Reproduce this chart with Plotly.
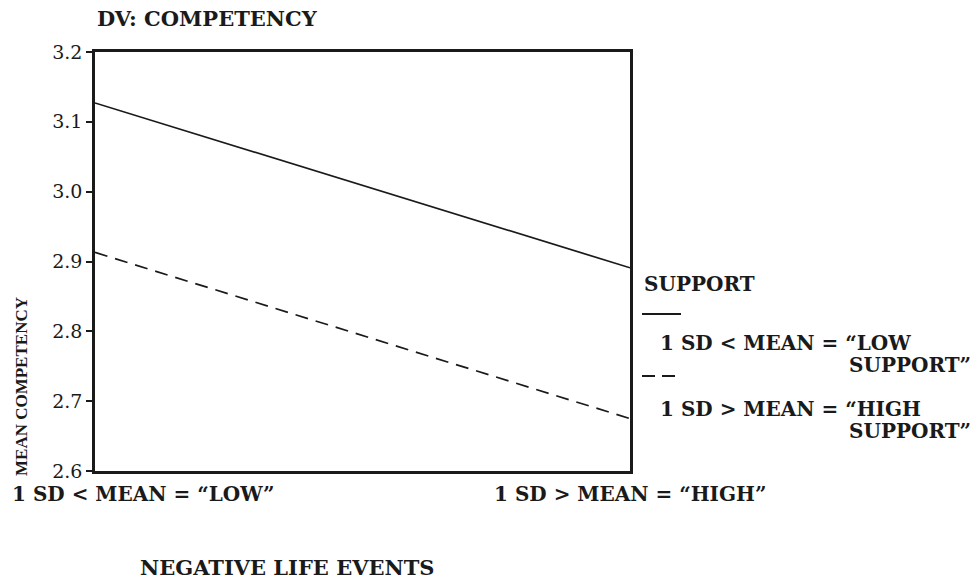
import plotly.graph_objects as go

# Data
x_positions = [0, 1]
x_labels = ["1 SD &lt; MEAN = “LOW”", "1 SD &gt; MEAN = “HIGH”"]
low_support = [3.127, 2.891]
high_support = [2.913, 2.675]
y_ticks = [2.6, 2.7, 2.8, 2.9, 3.0, 3.1, 3.2]
y_tick_text = ["2.6", "2.7", "2.8", "2.9", "3.0", "3.1", "3.2"]

W, H = 977, 582
L, R, T, B = 95, 630, 52, 471
FONT = "DejaVu Serif, serif"
FONT_NARROW = "Liberation Serif, Times New Roman, serif"
INK = "#1a1a1a"


def px(x):
    return (x - L) / (R - L)


def py(y):
    return (B - y) / (B - T)


fig = go.Figure()
fig.add_trace(go.Scatter(x=x_positions, y=low_support, mode="lines",
                         line=dict(color=INK, width=1.7, dash="solid"),
                         name="low", showlegend=False))
fig.add_trace(go.Scatter(x=x_positions, y=high_support, mode="lines",
                         line=dict(color=INK, width=1.7, dash="13px,8px"),
                         name="high", showlegend=False))

fig.update_layout(
    width=W, height=H,
    margin=dict(l=L, r=W - R, t=T, b=H - B),
    paper_bgcolor="white", plot_bgcolor="white",
    font=dict(family=FONT, color=INK),
    showlegend=False,
)
fig.update_xaxes(range=[0, 1], showgrid=False, zeroline=False,
                 showline=True, linecolor=INK, linewidth=2.5, mirror=True,
                 showticklabels=False, ticks="")
fig.update_yaxes(range=[2.6, 3.2], showgrid=False, zeroline=False,
                 showline=True, linecolor=INK, linewidth=2.5, mirror=True,
                 tickmode="array", tickvals=y_ticks, ticktext=y_tick_text,
                 ticks="outside", ticklen=6, tickwidth=2, tickcolor=INK,
                 tickfont=dict(family=FONT, size=19, color=INK))

ann = []
bold = dict(family=FONT, size=20, color=INK)
# Title
ann.append(dict(text="<b>DV: COMPETENCY</b>", xref="paper", yref="paper",
                x=px(95), y=py(18), xanchor="left", yanchor="middle",
                showarrow=False, font=dict(family=FONT, size=21, color=INK)))
# Category labels
ann.append(dict(text="<b>" + x_labels[0] + "</b>", xref="paper", yref="paper",
                x=px(10), y=py(494), xanchor="left", yanchor="middle",
                showarrow=False, font=bold))
ann.append(dict(text="<b>" + x_labels[1] + "</b>", xref="x", yref="paper",
                x=x_positions[1], y=py(494), xanchor="center", yanchor="middle",
                showarrow=False, font=bold))
# Axis titles
ann.append(dict(text="<b>NEGATIVE LIFE EVENTS</b>", xref="paper", yref="paper",
                x=px(287), y=py(567), xanchor="center", yanchor="middle",
                showarrow=False, font=dict(family=FONT, size=21, color=INK)))
ann.append(dict(text="<b>MEAN COMPETENCY</b>", xref="paper", yref="paper",
                x=px(21), y=py(387), xanchor="center", yanchor="middle", textangle=-90,
                showarrow=False, font=dict(family=FONT_NARROW, size=17, color=INK)))
# Legend text
ann.append(dict(text="<b>SUPPORT</b>", xref="paper", yref="paper",
                x=px(642), y=py(284), xanchor="left", yanchor="middle",
                showarrow=False, font=bold))
ann.append(dict(text="<b>1 SD &lt; MEAN = “LOW</b>", xref="paper", yref="paper",
                x=px(658), y=py(343), xanchor="left", yanchor="middle",
                showarrow=False, font=bold))
ann.append(dict(text="<b>SUPPORT”</b>", xref="paper", yref="paper",
                x=px(973), y=py(365), xanchor="right", yanchor="middle",
                showarrow=False, font=bold))
ann.append(dict(text="<b>1 SD &gt; MEAN = “HIGH</b>", xref="paper", yref="paper",
                x=px(658), y=py(409), xanchor="left", yanchor="middle",
                showarrow=False, font=bold))
ann.append(dict(text="<b>SUPPORT”</b>", xref="paper", yref="paper",
                x=px(973), y=py(431), xanchor="right", yanchor="middle",
                showarrow=False, font=bold))
fig.update_layout(annotations=ann)

# Legend line samples
fig.add_shape(type="line", xref="paper", yref="paper",
              x0=px(642), x1=px(681), y0=py(314), y1=py(314),
              line=dict(color=INK, width=2))
fig.add_shape(type="line", xref="paper", yref="paper",
              x0=px(642), x1=px(675), y0=py(376), y1=py(376),
              line=dict(color=INK, width=2, dash="13px,7px"))

fig.write_html("out.html", config={"displayModeBar": False},
               post_script="document.body.style.margin='0';document.body.style.overflow='hidden';")
